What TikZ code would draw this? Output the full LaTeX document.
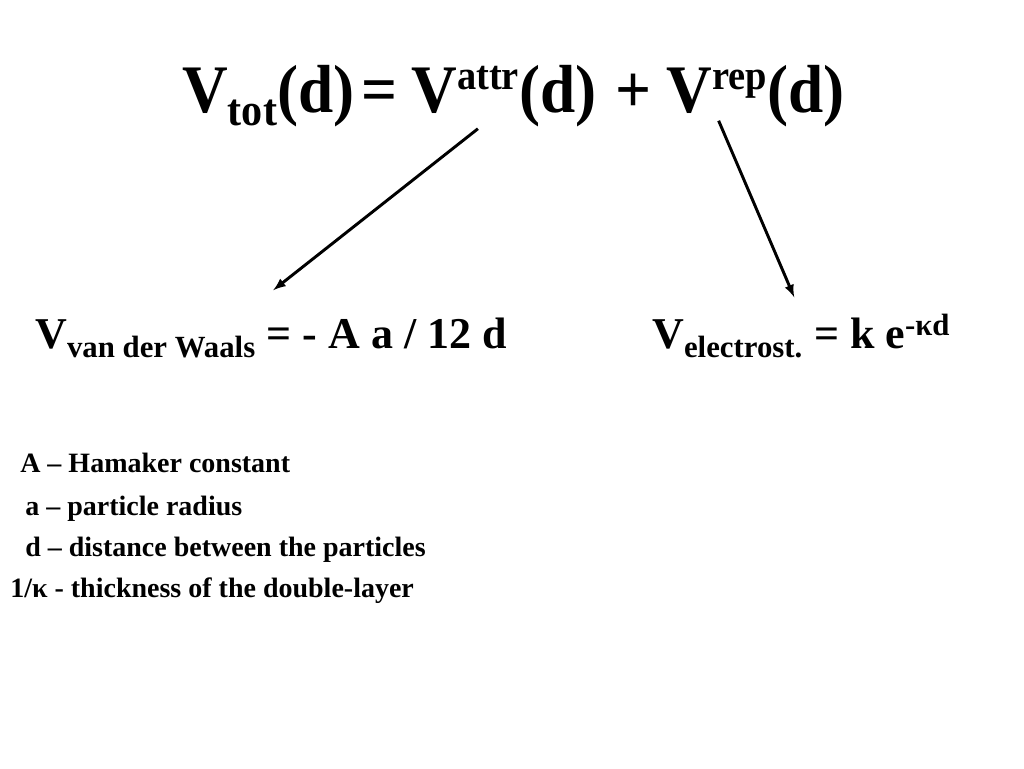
\documentclass[tikz,border=0pt]{standalone}
\usepackage{fontspec}
\setmainfont{Liberation Serif}
\newfontfamily\titlefont[FakeStretch=0.93]{Liberation Serif}
\usetikzlibrary{arrows,positioning}
\tikzstyle{term}=[inner sep=0pt, anchor=base west, font=\titlefont\bfseries\fontsize{51}{60}\selectfont]
\tikzstyle{formula}=[inner sep=0pt, anchor=base west, font=\bfseries\fontsize{33}{38}\selectfont]
\tikzstyle{legend}=[inner sep=0pt, anchor=base west, font=\bfseries\fontsize{21}{25}\selectfont]
\tikzstyle{connect}=[-latex, line width=2.2pt]
\newcommand{\lowtext}[1]{\raisebox{-10pt}{\bfseries\fontsize{34}{40}\selectfont #1}}
\newcommand{\hightext}[1]{\raisebox{17pt}{\bfseries\fontsize{31}{36}\selectfont #1}}

\begin{document}
\begin{tikzpicture}[x=0.75pt,y=-0.75pt]
  \useasboundingbox (0,0) rectangle (1024,768);
  % total potential
  \node[term] (tot) at (182,112) {V\lowtext{tot}(d)};
  \node[term] (eq) [base right=5pt of tot] {=};
  \node[term] (attr) [base right=10pt of eq] {V\hightext{attr}(d)};
  \node[term] (plus) [base right=14pt of attr] {+};
  \node[term] (rep) [base right=11pt of plus] {V\hightext{rep}(d)};

  % the two contributions
  \node[formula] (vdw) at (35,348) {V\textsubscript{van der Waals} = - A a / 12 d};
  \node[formula] (elec) at (652,348) {V\textsubscript{electrost.} = k e\textsuperscript{-κd}};

  \path ([shift={(-26,2)}]attr.south) edge [connect] ([shift={(2,-27)}]vdw.north)
        ([shift={(-37,-6)}]rep.south) edge [connect] ([shift={(-7,-17)}]elec.north);

  % symbols
  \node[legend] (hama) at (20,472) {A – Hamaker constant};
  \node[legend] (rad) at (25,515) {a – particle radius};
  \node[legend] (dist) at (25,556) {d – distance between the particles};
  \node[legend] (debye) at (10,597) {1/κ - thickness of the double-layer};
\end{tikzpicture}
\end{document}
